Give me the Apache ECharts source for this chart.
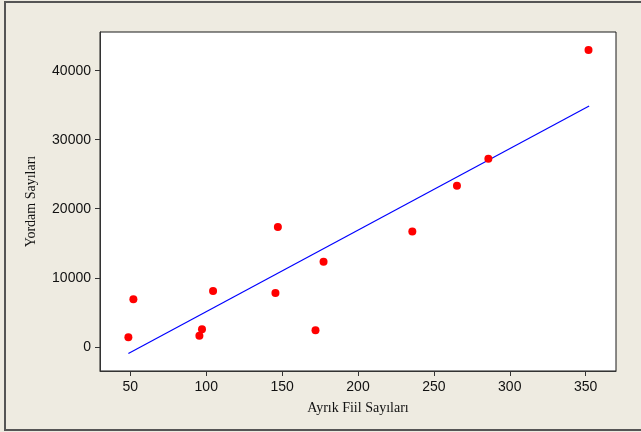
<!DOCTYPE html>
<html>
<head>
<meta charset="utf-8">
<script src="https://cdn.jsdelivr.net/npm/echarts@6/dist/echarts.min.js"></script>
<style>
  html, body { margin: 0; padding: 0; background: #eeebe1; }
  #chart { width: 641px; height: 432px; }
</style>
</head>
<body>
<div id="chart"></div>
<script>
// Observed counts: verb-phrase count (x) vs. auxiliary count (y)
const fiilSayilari = [48.7, 52, 95.5, 97.2, 104.5, 145.6, 147.2, 172, 177.3, 235.8, 265.2, 285.9, 351.9];
const yordamSayilari = [1400, 6900, 1600, 2560, 8100, 7780, 17350, 2420, 12320, 16720, 23330, 27250, 43000];

// Endpoints of the fitted regression line
const fitX = [48.7, 352.3];
const fitY = [-960, 34890];

// Tick positions
const xTicks = [50, 100, 150, 200, 250, 300, 350];
const yTicks = [0, 10000, 20000, 30000, 40000];

const points = fiilSayilari.map((x, i) => [x, yordamSayilari[i]]);
const fitLine = fitX.map((x, i) => [x, fitY[i]]);

const chart = echarts.init(document.getElementById('chart'), null, { renderer: 'canvas' });

const tickLabelStyle = {
  color: '#111111',
  fontFamily: '"Liberation Sans", Arial, sans-serif',
  fontSize: 14,
  formatter: v => String(v)
};
const nameStyle = {
  color: '#111111',
  fontFamily: '"Liberation Serif", "Times New Roman", serif',
  fontSize: 14
};

chart.setOption({
  backgroundColor: '#eeebe1',
  animation: false,
  graphic: [{
    type: 'rect',
    shape: { x: 5, y: 2, width: 660, height: 428 },
    style: { fill: 'none', stroke: '#555555', lineWidth: 2 },
    silent: true,
    z: -1
  }],
  grid: {
    left: 100, top: 32, right: 25, bottom: 61,
    show: true,
    backgroundColor: '#ffffff',
    borderColor: '#1a1a1a',
    borderWidth: 1
  },
  xAxis: {
    type: 'value',
    min: 30,
    max: 370,
    name: 'Ayrık Fiil Sayıları',
    nameLocation: 'middle',
    nameGap: 30,
    nameTextStyle: nameStyle,
    axisLine: { show: true, onZero: false, lineStyle: { color: '#333333', width: 1 } },
    axisTick: { show: true, length: 5, customValues: xTicks, lineStyle: { color: '#333333' } },
    axisLabel: Object.assign({ margin: 9, customValues: xTicks }, tickLabelStyle),
    splitLine: { show: false }
  },
  yAxis: {
    type: 'value',
    min: -3500,
    max: 45600,
    name: 'Yordam Sayıları',
    nameLocation: 'middle',
    nameGap: 62,
    nameTextStyle: nameStyle,
    axisLine: { show: true, onZero: false, lineStyle: { color: '#333333', width: 1 } },
    axisTick: { show: true, length: 5, customValues: yTicks, lineStyle: { color: '#333333' } },
    axisLabel: Object.assign({ margin: 9, customValues: yTicks }, tickLabelStyle),
    splitLine: { show: false }
  },
  series: [
    {
      type: 'line',
      data: fitLine,
      symbol: 'none',
      lineStyle: { color: '#0000ff', width: 1.2 },
      z: 2
    },
    {
      type: 'scatter',
      data: points,
      symbol: 'circle',
      symbolSize: 8,
      itemStyle: { color: '#ff0000', opacity: 1 },
      z: 3
    }
  ]
});
</script>
</body>
</html>
